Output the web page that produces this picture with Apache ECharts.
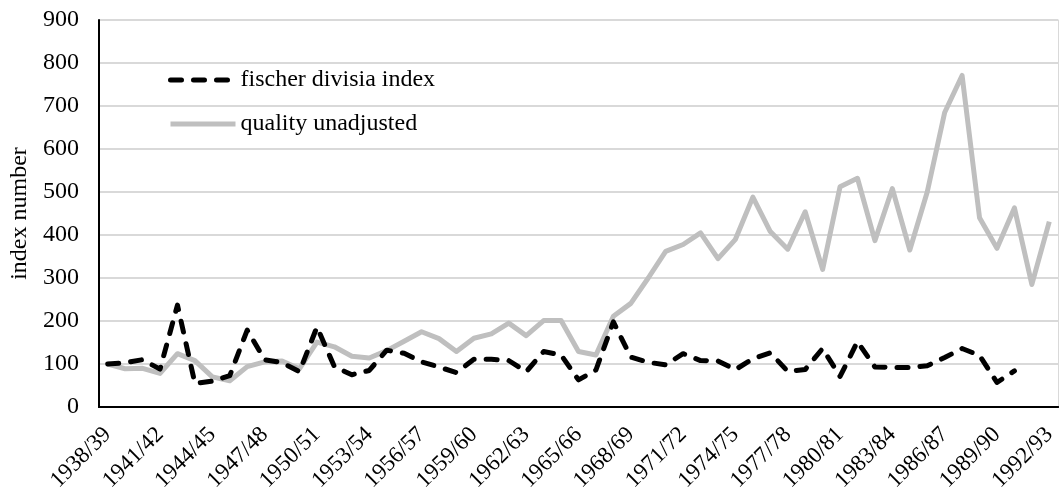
<!DOCTYPE html>
<html>
<head>
<meta charset="utf-8">
<script src="https://cdn.jsdelivr.net/npm/echarts@6/dist/echarts.min.js"></script>
<style>
html,body{margin:0;padding:0;background:#fff;}
#chart{width:1059px;height:492px;}
</style>
</head>
<body>
<div id="chart"></div>
<script>
var categories = ['1938/39','1939/40','1940/41','1941/42','1942/43','1943/44','1944/45','1945/46','1946/47','1947/48',
'1948/49','1949/50','1950/51','1951/52','1952/53','1953/54','1954/55','1955/56','1956/57','1957/58',
'1958/59','1959/60','1960/61','1961/62','1962/63','1963/64','1964/65','1965/66','1966/67','1967/68',
'1968/69','1969/70','1970/71','1971/72','1972/73','1973/74','1974/75','1975/76','1976/77','1977/78',
'1978/79','1979/80','1980/81','1981/82','1982/83','1983/84','1984/85','1985/86','1986/87','1987/88',
'1988/89','1989/90','1990/91','1991/92','1992/93'];

var fischerDivisia = [100,103,110,88,237,55,60,73,179,110,
103,82,186,94,75,85,132,125,105,93,
80,111,111,108,82,129,121,63,86,198,
116,104,98,124,108,107,87,112,126,83,
87,136,71,152,93,92,92,96,115,136,
120,57,84,null,null];

var qualityUnadjusted = [100,89,90,78,124,108,70,61,94,105,
107,89,151,140,118,114,131,153,175,159,
129,160,170,195,166,201,201,129,121,211,
241,300,362,378,405,345,390,488,408,367,
454,320,512,532,387,508,365,500,685,771,
440,369,463,285,431];

var yTicks = [0,100,200,300,400,500,600,700,800,900];

var FONT = '"Liberation Serif","Times New Roman",serif';
var chart = echarts.init(document.getElementById('chart'), null, {renderer:'canvas'});
chart.setOption({
  animation:false,
  backgroundColor:'#ffffff',
  grid:{left:99,right:1,top:20,bottom:85,containLabel:false,outerBoundsMode:'none'},
  legend:{
    orient:'vertical',
    left:163, top:63,
    itemWidth:65, itemHeight:14, itemGap:20,
    itemStyle:{color:'transparent',borderWidth:0,opacity:0},
    lineStyle:{width:5},
    textStyle:{fontFamily:FONT,fontSize:24,lineHeight:24,color:'#000'},
    data:['fischer divisia index','quality unadjusted']
  },
  xAxis:[{
    type:'category',
    data:categories,
    boundaryGap:true,
    axisLine:{show:true,lineStyle:{color:'#000',width:2}},
    axisTick:{show:false},
    axisLabel:{interval:2,rotate:45,fontFamily:FONT,fontSize:23,color:'#000',margin:24},
    splitLine:{show:false}
  },{
    type:'category',
    position:'top',
    data:categories,
    axisLine:{show:true,lineStyle:{color:'#000',width:2}},
    axisTick:{show:false},
    axisLabel:{show:false}
  }],
  yAxis:[{
    type:'value',
    min:yTicks[0], max:yTicks[yTicks.length-1], interval:100,
    name:'index number',
    nameLocation:'middle',
    nameGap:67,
    nameTextStyle:{fontFamily:FONT,fontSize:24,color:'#000'},
    axisLine:{show:true,lineStyle:{color:'#000',width:2}},
    axisTick:{show:false},
    axisLabel:{fontFamily:FONT,fontSize:24,color:'#000',margin:20},
    splitLine:{show:true,lineStyle:{color:'#d9d9d9',width:2}}
  },{
    type:'value',
    position:'right',
    min:yTicks[0], max:yTicks[yTicks.length-1], interval:100,
    axisLine:{show:true,lineStyle:{color:'#d9d9d9',width:1}},
    axisTick:{show:false},
    axisLabel:{show:false},
    splitLine:{show:false}
  }],
  series:[{
    name:'fischer divisia index',
    type:'line',
    data:fischerDivisia,
    symbol:'none',
    connectNulls:false,
    z:3,
    itemStyle:{color:'#000'},
    lineStyle:{color:'#000',width:5,type:[11,12],cap:'round',join:'round'}
  },{
    name:'quality unadjusted',
    type:'line',
    data:qualityUnadjusted,
    symbol:'none',
    z:2,
    itemStyle:{color:'#bfbfbf'},
    lineStyle:{color:'#bfbfbf',width:5,join:'round'}
  }]
});
</script>
</body>
</html>
